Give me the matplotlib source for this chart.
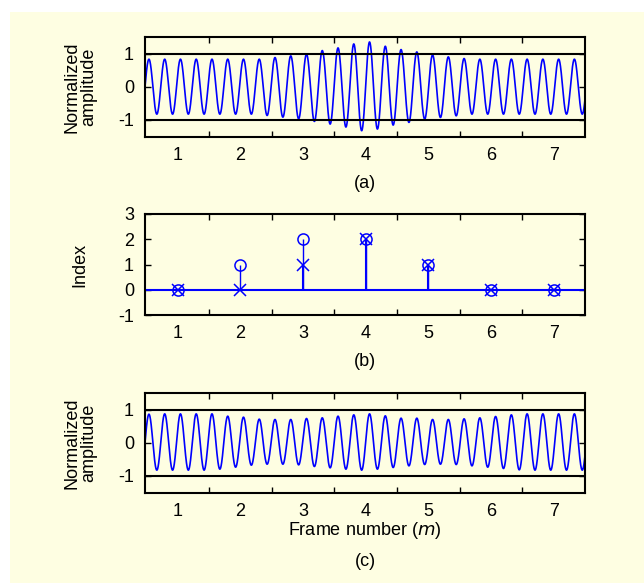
import numpy as np
import matplotlib
matplotlib.use('Agg')
import matplotlib.pyplot as plt
from matplotlib.patches import Rectangle

plt.rcParams['font.family'] = ['Liberation Sans', 'DejaVu Sans']
plt.rcParams['font.size'] = 13
plt.rcParams['axes.unicode_minus'] = False

# peak values of each cycle
pos_a = [0.83] * 8 + [0.88, 0.93, 0.98, 1.09, 1.17, 1.29, 1.35, 1.22, 1.12,
                      1.05, 0.96, 0.90, 0.85] + [0.83] * 7
neg_a = [-0.83] * 7 + [-0.87, -0.92, -0.97, -1.05, -1.13, -1.22, -1.33, -1.28,
                       -1.16, -1.08, -0.98, -0.93, -0.88] + [-0.83] * 8
pos_c = [0.86, 0.87, 0.87, 0.87, 0.87, 0.80, 0.77, 0.71, 0.70, 0.70, 0.73, 0.75,
         0.80, 0.84, 0.87, 0.81, 0.74, 0.74, 0.70, 0.70, 0.72, 0.75, 0.79, 0.84,
         0.87, 0.87, 0.87, 0.87]
neg_c = [-0.83, -0.83, -0.83, -0.83, -0.80, -0.74, -0.68, -0.65, -0.65, -0.67,
         -0.72, -0.76, -0.80, -0.83, -0.80, -0.75, -0.70, -0.66, -0.65, -0.66,
         -0.70, -0.74, -0.78, -0.82, -0.83, -0.83, -0.83, -0.83]

frames = [1, 2, 3, 4, 5, 6, 7]
idx_o = [0, 1, 2, 2, 1, 0, 0]
idx_x = [0, 0, 1, 2, 1, 0, 0]

x0, x1 = 0.48, 7.5
half = 0.1257
bg = '#FEFEE2'


def wave(pos, neg):
    x = np.linspace(x0, x1, 4000)
    j = np.floor((x - x0) / half).astype(int)
    amp = np.array([abs(pos[k // 2]) if k % 2 == 0 else abs(neg[k // 2]) for k in j])
    return x, amp * np.sin(np.pi * (x - x0) / half)


fig = plt.figure(figsize=(6.44, 5.83), dpi=100, facecolor=bg)
fig.patches.append(Rectangle((0, 1 - 12 / 583), 1, 12 / 583, transform=fig.transFigure,
                             facecolor='white', edgecolor='none', zorder=0))
fig.patches.append(Rectangle((0, 0), 10 / 644, 1, transform=fig.transFigure,
                             facecolor='white', edgecolor='none', zorder=0))

L, W = 145 / 644, 440 / 644
ax_a = fig.add_axes([L, 1 - 137 / 583, W, 100 / 583])
ax_b = fig.add_axes([L, 1 - 315 / 583, W, 101 / 583])
ax_c = fig.add_axes([L, 1 - 493 / 583, W, 100 / 583])


def style(ax):
    ax.set_facecolor(bg)
    ax.set_xlim(x0, x1)
    for s in ax.spines.values():
        s.set_linewidth(1.5)
    ax.set_xticks([1.5, 2.5, 3.5, 4.5, 5.5, 6.5])
    ax.set_xticklabels([])
    ax.set_xticks(frames, minor=True)
    ax.set_xticklabels([str(f) for f in frames], minor=True)
    ax.tick_params(axis='x', which='major', direction='in', length=4, width=1, top=True)
    ax.tick_params(axis='x', which='minor', length=0, pad=7)
    ax.tick_params(axis='y', direction='in', length=4, width=1, right=True, pad=8)


for ax, pos, neg in [(ax_a, pos_a, neg_a), (ax_c, pos_c, neg_c)]:
    style(ax)
    x, y = wave(pos, neg)
    ax.plot(x, y, color='blue', lw=1.2)
    ax.axhline(1, color='black', lw=1.5)
    ax.axhline(-1, color='black', lw=1.5)
    ax.set_ylim(-1.52, 1.5)
    ax.set_yticks([-1, 0, 1])
    ax.set_ylabel('Normalized\namplitude', linespacing=1.0)
    ax.yaxis.set_label_coords(-0.108, 0.5)

style(ax_b)
ax_b.axhline(0, color='blue', lw=1.5)
ax_b.vlines(frames, 0, idx_o, color='blue', lw=1)
ax_b.vlines(frames, 0, idx_x, color='blue', lw=1.5)
ax_b.plot(frames, idx_o, 'o', mfc='none', mec='blue', ms=8, mew=1.1)
ax_b.plot(frames, idx_x, 'x', color='blue', ms=8, mew=1.1)
ax_b.set_ylim(-1, 3)
ax_b.set_yticks([-1, 0, 1, 2, 3])
ax_b.set_ylabel('Index')
ax_b.yaxis.set_label_coords(-0.128, 0.5)

ax_c.set_xlabel('Frame number ($\\it{m}$)', labelpad=0)

fig.text(365 / 644, 1 - 183 / 583, '(a)', ha='center', va='center')
fig.text(365 / 644, 1 - 362 / 583, '(b)', ha='center', va='center')
fig.text(365 / 644, 1 - 562 / 583, '(c)', ha='center', va='center')

fig.savefig('out.png', dpi=100, facecolor=bg)
